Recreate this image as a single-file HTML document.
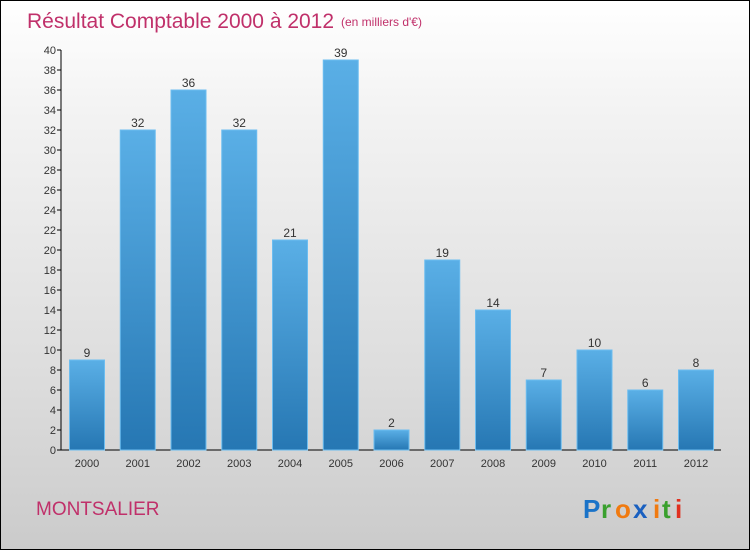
<!DOCTYPE html>
<html><head><meta charset="utf-8"><style>
body{margin:0;width:750px;height:550px;overflow:hidden}
#wrap{position:relative;width:748px;height:548px;border:1px solid #000;background:linear-gradient(#ffffff,#f3f3f3 20%,#dcdcdc 70%,#cbcbcb);font-family:"Liberation Sans",sans-serif}
svg text{font-family:"Liberation Sans",sans-serif}
</style></head><body>
<div id="wrap">
<svg id="chart" width="748" height="548">
<defs><linearGradient id="bg" x1="0" y1="0" x2="0" y2="1"><stop offset="0" stop-color="#5aafe6"/><stop offset="1" stop-color="#2677b3"/></linearGradient></defs>
<text x="26" y="27" font-size="21" fill="#c0306a">Résultat Comptable 2000 à 2012</text>
<text x="340" y="25" font-size="12" fill="#c0306a">(en milliers d'€)</text>
<text x="35" y="514" font-size="19" fill="#c0306a">MONTSALIER</text>
<g font-size="26" font-weight="bold">
<text x="582" y="517" fill="#1a73c8">P</text><text x="600" y="517" fill="#3aa02e">r</text><text x="614" y="517" fill="#f07a10">o</text><text x="632" y="517" fill="#1a60c0">x</text><text x="652" y="517" fill="#f07a10">i</text><text x="661" y="517" fill="#3aa02e">t</text><text x="674" y="517" fill="#e03020">i</text>
</g>
<g id="plot"></g>
</svg>
</div>
<script>
const categories=["2000","2001","2002","2003","2004","2005","2006","2007","2008","2009","2010","2011","2012"];
const values=[9,32,36,32,21,39,2,19,14,7,10,6,8];
const yTicks=[0,2,4,6,8,10,12,14,16,18,20,22,24,26,28,30,32,34,36,38,40];
const NS="http://www.w3.org/2000/svg";
const g=document.getElementById('plot');
const y=v=>449-v*10;
const x=i=>86+i*50.75;
function mk(t,a){const e=document.createElementNS(NS,t);for(const k in a)e.setAttribute(k,a[k]);g.appendChild(e);return e;}
let ax=mk('line',{x1:60,y1:49,x2:60,y2:449,stroke:'#000'});


let bx=mk('line',{x1:60,y1:449,x2:720,y2:449,stroke:'#000'});


yTicks.forEach(t=>{
 const l=mk('line',{x1:56,x2:60,y1:y(t),y2:y(t),stroke:'#000'});
 
 
 const tx=mk('text',{x:55,y:y(t)+4,'text-anchor':'end','font-size':11,fill:'#333'});
 tx.textContent=t;
 
 
});
categories.forEach((c,i)=>{
 const v=values[i];
 const r=mk('rect',{x:x(i)-17.5,y:y(v),width:35,height:v*10,fill:'url(#bg)',stroke:'#6cbdf0','stroke-width':1});
 
 
 const lb=mk('text',{x:x(i),y:y(v)-3,'text-anchor':'middle','font-size':12,fill:'#333'});
 lb.textContent=v;
 
 
 const xl=mk('text',{x:x(i),y:466,'text-anchor':'middle','font-size':11,fill:'#333'});
 xl.textContent=c;
 
 
});
</script>
</body></html>
